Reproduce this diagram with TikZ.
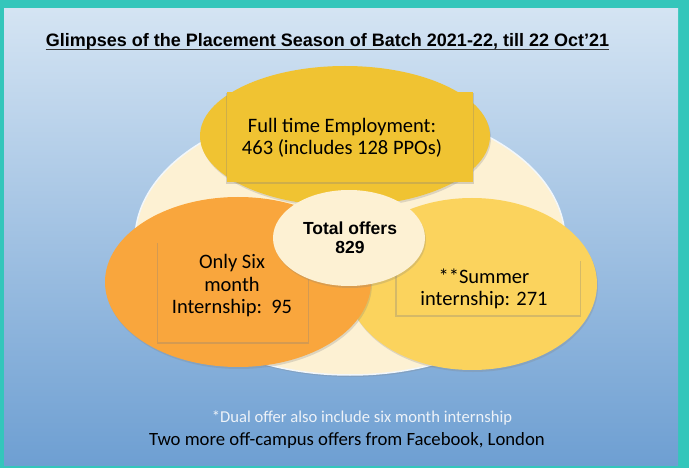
\documentclass[tikz,border=0pt]{standalone}
\usepackage{fontspec}
\setmainfont{Carlito}
\newfontfamily\arialfont{Liberation Sans}
\usetikzlibrary{shapes.geometric,shadows}
\definecolor{frameteal}{HTML}{34C6BB}
\definecolor{skytop}{HTML}{D4E4F3}
\definecolor{skybot}{HTML}{6E9FD2}
\definecolor{creamfill}{HTML}{FDF1D3}
\definecolor{goldfill}{HTML}{F0C332}
\definecolor{orangefill}{HTML}{F9A63D}
\definecolor{sunfill}{HTML}{FBD35D}
\definecolor{notegrey}{HTML}{EDF2F8}

\begin{document}
\begin{tikzpicture}[x=1pt,y=-1pt,
  blob/.style={ellipse,inner sep=0pt,drop shadow={shadow xshift=1pt,shadow yshift=-2pt,opacity=.25}},
  tag/.style={rectangle,inner sep=0pt,drop shadow={shadow xshift=0pt,shadow yshift=-1.5pt,shadow scale=1.012,opacity=.3}},
  say/.style={align=center,inner sep=0pt,font=\fontsize{20.5}{22}\selectfont}]
\useasboundingbox (0,0) rectangle (689,468);
\fill[frameteal] (0,0) rectangle (689,468);
\shade[top color=skytop,bottom color=skybot] (4,9) rectangle (678,465);
\node[inner sep=0pt,font=\arialfont\bfseries\fontsize{18}{20}\selectfont] (title) at (327.5,42) {Glimpses of the Placement Season of Batch 2021-22, till 22 Oct’21};
\draw[line width=1.3pt,black!80] ([yshift=-3pt]title.base west) -- ([yshift=-3pt]title.base east);
\node[blob,fill=creamfill,draw=white!70!skytop,line width=1.5pt,minimum width=430pt,minimum height=270pt] (base) at (350,240) {};
\node[blob,fill=goldfill,minimum width=290pt,minimum height=140pt] (full) at (345,136) {};
\node[tag,fill=goldfill,minimum width=246pt,minimum height=90pt] (fullbox) at (350,137) {};
\node[say] (fulltext) at (342,138) {Full time Employment:\\463 (includes 128 PPOs)};
\node[blob,fill=sunfill,minimum width=250pt,minimum height=172pt] (summer) at (472,284) {};
\node[tag,fill=sunfill,minimum width=183pt,minimum height=55pt] (summerbox) at (488,287.5) {};
\node[say] (summertext) at (484,289) {**Summer\\internship: 271};
\node[blob,fill=orangefill,minimum width=266pt,minimum height=170pt] (six) at (238,282) {};
\node[tag,fill=orangefill,minimum width=150pt,minimum height=100pt] (sixbox) at (233,292) {};
\node[say,font=\fontsize{20.5}{22.5}\selectfont] (sixtext) at (232,286) {Only Six\\month\\Internship:\ \ 95};
\node[blob,fill=creamfill,minimum width=152pt,minimum height=96pt] (total) at (349,238) {};
\node[align=center,inner sep=0pt,font=\arialfont\bfseries\fontsize{17.5}{19}\selectfont] (totaltext) at (350,238) {Total offers\\829};
\node[inner sep=0pt,text=notegrey,font=\fontsize{16.6}{18}\selectfont] (dualnote) at (362,418) {*Dual offer also include six month internship};
\node[inner sep=0pt,font=\fontsize{18.7}{21}\selectfont] (offnote) at (347,441) {Two more off-campus offers from Facebook, London};
\end{tikzpicture}
\end{document}
